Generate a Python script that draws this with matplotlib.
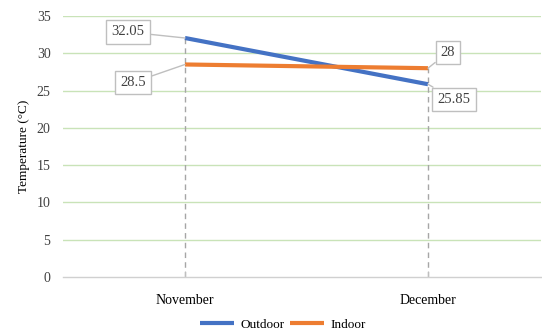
import matplotlib
matplotlib.use("Agg")
import matplotlib.pyplot as plt

months = ["November", "December"]
outdoor = [32.05, 25.85]
indoor = [28.5, 28.0]
outdoor_labels = ["32.05", "25.85"]
indoor_labels = ["28.5", "28"]
yticks = [0, 5, 10, 15, 20, 25, 30, 35]

plt.rcParams["font.family"] = ["Liberation Serif", "DejaVu Serif"]

fig = plt.figure(figsize=(5.42, 3.31), dpi=100)
ax = fig.add_axes([63 / 542, 1 - 277 / 331, (541 - 63) / 542, (277 - 16) / 331])

x = list(range(len(months)))
ax.set_xlim(-(185 - 63) / 243, 1 + (541 - 428) / 243)
ax.set_ylim(0, 35)

for v in yticks[1:]:
    ax.axhline(v, color="#c9e3b8", lw=1.0, zorder=0)

# drop lines from each month's points down to the axis
for i in x:
    top = max(outdoor[i], indoor[i])
    ax.plot([i, i], [0, top], color="#a6a6a6", lw=1.0, ls=(0, (4, 3)), zorder=1)

ax.plot(x, outdoor, color="#4472C4", lw=3, label="Outdoor", zorder=3, solid_capstyle="butt")
ax.plot(x, indoor, color="#ED7D31", lw=3, label="Indoor", zorder=3, solid_capstyle="butt")

box = dict(boxstyle="square,pad=0.35", fc="white", ec="#bfbfbf", lw=1.0)
arrow = dict(arrowstyle="-", color="#bfbfbf", lw=1.0, shrinkA=0, shrinkB=0)
label_offsets = {
    ("out", 0): (-57, 6),
    ("in", 0): (-52, -18),
    ("in", 1): (20, 16),
    ("out", 1): (26, -15),
}
for i in x:
    ax.annotate(outdoor_labels[i], (i, outdoor[i]), xytext=label_offsets[("out", i)],
                textcoords="offset pixels", ha="center", va="center", fontsize=10.5,
                color="#404040", bbox=box, arrowprops=arrow, zorder=5)
    ax.annotate(indoor_labels[i], (i, indoor[i]), xytext=label_offsets[("in", i)],
                textcoords="offset pixels", ha="center", va="center", fontsize=10.5,
                color="#404040", bbox=box, arrowprops=arrow, zorder=5)

ax.set_xticks(x)
ax.set_xticklabels(months, fontsize=10)
ax.set_yticks(yticks)
ax.set_yticklabels([str(v) for v in yticks], fontsize=10, color="#404040")
ax.tick_params(axis="x", length=4, color="#bfbfbf", pad=12, direction="in")
ax.tick_params(axis="y", length=0, pad=9)

for s in ["top", "right", "left"]:
    ax.spines[s].set_visible(False)
ax.spines["bottom"].set_color("#d0d0d0")
ax.spines["bottom"].set_linewidth(1.0)

ax.set_ylabel("Temperature (°C)", fontsize=9.5, labelpad=5)

fig.legend(loc="lower center", bbox_to_anchor=(0.522, -0.035), ncol=2, frameon=False,
           fontsize=9.5, handlelength=2.6, columnspacing=0.4, handletextpad=0.5)

fig.savefig("out.png", dpi=100)
